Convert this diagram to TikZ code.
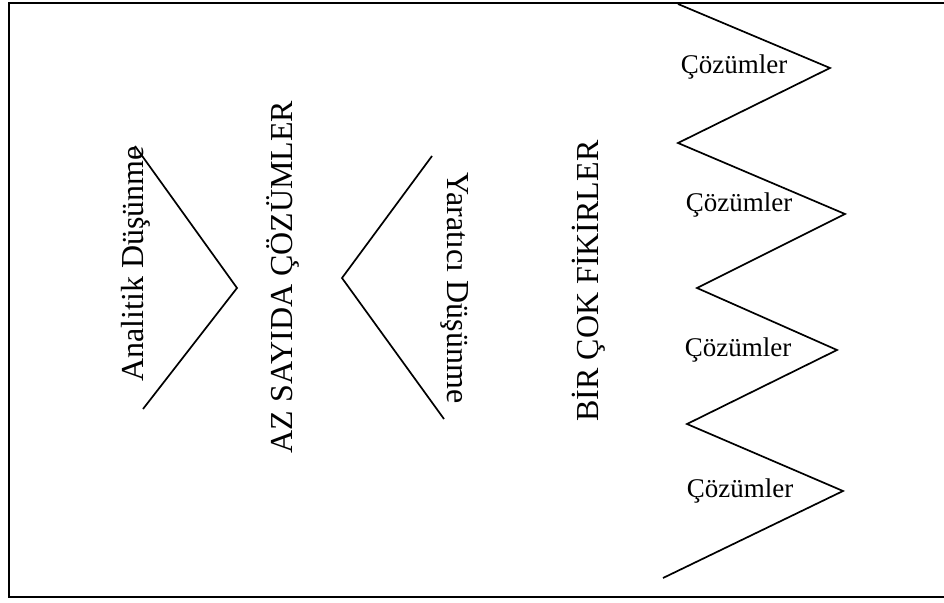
\documentclass[tikz,border=0pt]{standalone}
\usepackage{fontspec}
\setmainfont{Liberation Serif}

\begin{document}
\begin{tikzpicture}[x=1pt,y=-1pt,line width=1.7pt,
    bigtext/.style={anchor=base,inner sep=0pt,font=\fontsize{32}{38}\selectfont},
    smalltext/.style={anchor=west,inner sep=0pt,font=\fontsize{27}{32}\selectfont}]
    \useasboundingbox (0,0) rectangle (944,602);
    \draw (944,3) -- (9,3) -- (9,597) -- (944,597);
    % analitik
    \coordinate (an1) at (135,146);
    \coordinate (an2) at (237,288);
    \coordinate (an3) at (143,409);
    \draw (an1) -- (an2) -- (an3);
    \node (analitik) [bigtext,rotate=90] at (143,264) {Analitik Düşünme};
    \node (az) [bigtext,rotate=90] at (292,277) {AZ SAYIDA ÇÖZÜMLER};
    % yaratici
    \coordinate (ya1) at (432,156);
    \coordinate (ya2) at (342,278);
    \coordinate (ya3) at (444,419);
    \draw (ya1) -- (ya2) -- (ya3);
    \node (yaratici) [bigtext,rotate=-90] at (447,288) {Yaratıcı Düşünme};
    \node (fikir) [bigtext,rotate=90] at (598,281) {BİR ÇOK FİKİRLER};
    % zigzag
    \draw (678,4) -- (830,68) -- (678,143) -- (845,214) -- (697,288) -- (837,350) -- (687,424) -- (843,491) -- (663,578);
    \node (coz1) [smalltext] at (680,67) {Çözümler};
    \node (coz2) [smalltext] at (685,205) {Çözümler};
    \node (coz3) [smalltext] at (684,350) {Çözümler};
    \node (coz4) [smalltext] at (686,491) {Çözümler};
\end{tikzpicture}
\end{document}
